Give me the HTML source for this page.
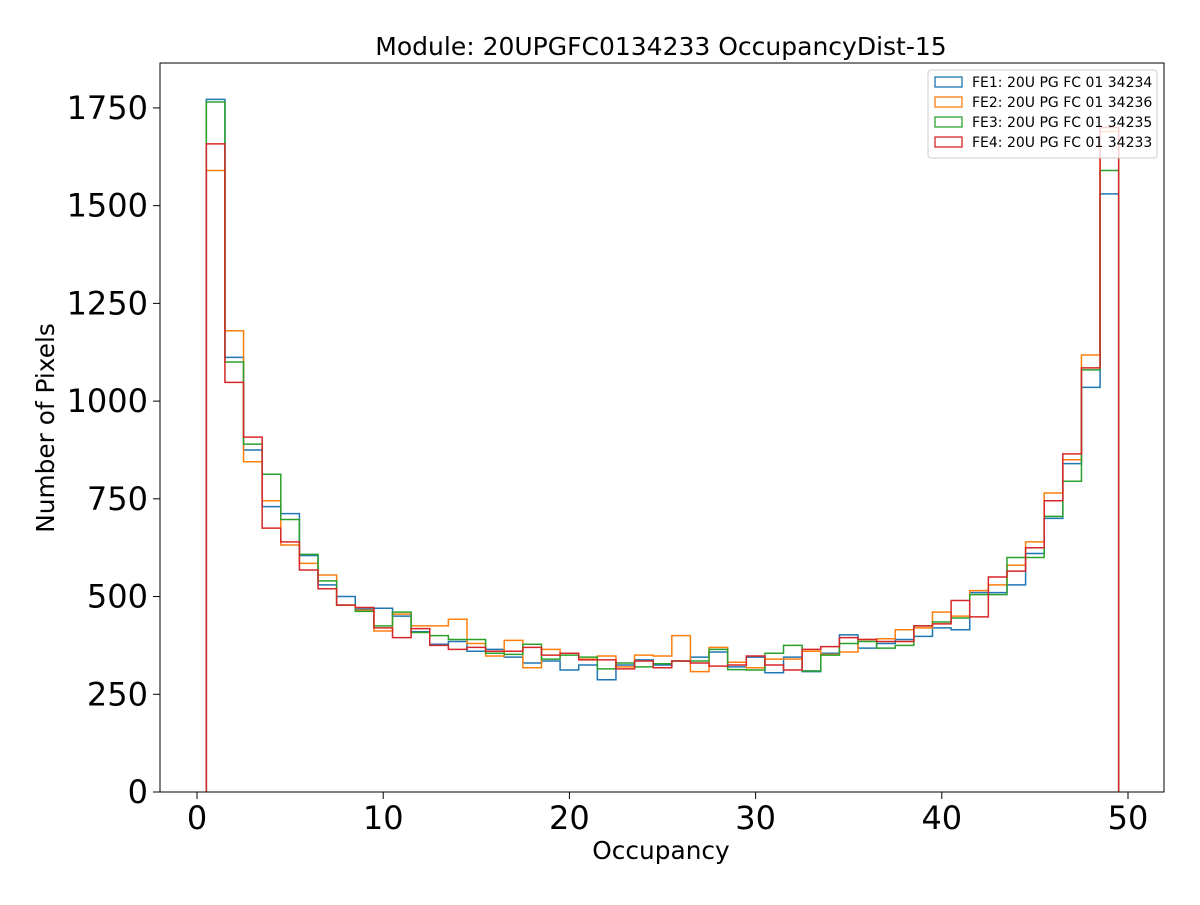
<!DOCTYPE html>
<html><head><meta charset="utf-8"><style>
html,body{margin:0;padding:0;background:#fff;}
svg text{font-family:"DejaVu Sans","Liberation Sans",sans-serif;}
</style></head><body>
<svg id="s" width="1200" height="900" xmlns="http://www.w3.org/2000/svg">
<rect width="1200" height="900" fill="#fff"/>
<g id="plot"></g>
<rect x="160" y="63" width="1004" height="729" fill="none" stroke="#000" stroke-width="1"/>
<g id="ticks" font-size="32" fill="#000"></g>
<text x="661" y="55" font-size="25" text-anchor="middle">Module: 20UPGFC0134233 OccupancyDist-15</text>
<text x="661" y="859" font-size="24.8" text-anchor="middle">Occupancy</text>
<text transform="translate(54,428) rotate(-90)" font-size="24.8" text-anchor="middle">Number of Pixels</text>
<g>
<rect x="928" y="70" width="229" height="88" fill="#fff" fill-opacity="0.8" stroke="#ccc" rx="3"/>
<rect x="935" y="77" width="27" height="10" fill="none" stroke="#1f77b4" stroke-width="1.3"/>
<text x="972" y="87" font-size="14">FE1: 20U PG FC 01 34234</text>
<rect x="935" y="97" width="27" height="10" fill="none" stroke="#ff7f0e" stroke-width="1.3"/>
<text x="972" y="107" font-size="14">FE2: 20U PG FC 01 34236</text>
<rect x="935" y="117" width="27" height="10" fill="none" stroke="#2ca02c" stroke-width="1.3"/>
<text x="972" y="127" font-size="14">FE3: 20U PG FC 01 34235</text>
<rect x="935" y="137" width="27" height="10" fill="none" stroke="#d62728" stroke-width="1.3"/>
<text x="972" y="147" font-size="14">FE4: 20U PG FC 01 34233</text>
</g>
</svg>
<script>
var X=function(v){return 197+18.62*v;},Y=function(v){return 792-0.3909*v;};
var d=[
[1772,1112,875,730,712,605,530,500,468,470,450,410,378,385,360,365,345,330,335,312,325,287,325,338,325,335,345,358,320,345,305,345,308,355,402,368,380,390,398,420,415,510,510,530,610,700,840,1035,1530],
[1590,1180,845,745,632,585,555,478,465,412,455,425,425,442,380,348,388,318,365,355,340,348,320,350,348,400,308,370,332,318,340,340,360,352,358,390,392,415,420,460,450,515,530,580,640,765,850,1118,1690],
[1765,1100,890,813,697,608,540,478,462,425,460,408,400,390,390,355,352,378,340,350,345,315,330,320,328,335,335,365,313,312,355,375,310,350,380,385,368,375,425,435,445,505,505,600,600,705,795,1080,1590],
[1658,1048,908,675,640,568,520,478,472,420,395,418,375,365,370,360,360,370,350,355,338,338,315,335,318,335,330,322,325,348,325,312,365,372,395,390,385,385,425,430,490,448,550,565,625,745,865,1085,1700]];
var c=["#1f77b4","#ff7f0e","#2ca02c","#d62728"];
var g=document.getElementById("plot"),h="";
d.forEach(function(a,i){var p="M"+X(0.5)+","+Y(0);
a.forEach(function(v,k){p+=" L"+X(k+0.5)+","+Y(v)+" L"+X(k+1.5)+","+Y(v);});
p+=" L"+X(49.5)+","+Y(0);
h+='<path d="'+p+'" fill="none" stroke="'+c[i]+'" stroke-width="1.5"/>';});
g.innerHTML=h;
var t="";
for(var v=0;v<=50;v+=10){var x=X(v);t+='<line x1="'+x+'" x2="'+x+'" y1="792" y2="799" stroke="#000"/><text x="'+x+'" y="829" text-anchor="middle">'+v+'</text>';}
for(var v=0;v<=1750;v+=250){var y=Y(v);t+='<line x1="153" x2="160" y1="'+y+'" y2="'+y+'" stroke="#000"/><text x="148" y="'+(y+11)+'" text-anchor="end">'+v+'</text>';}
document.getElementById("ticks").innerHTML=t;
</script>
</body></html>
